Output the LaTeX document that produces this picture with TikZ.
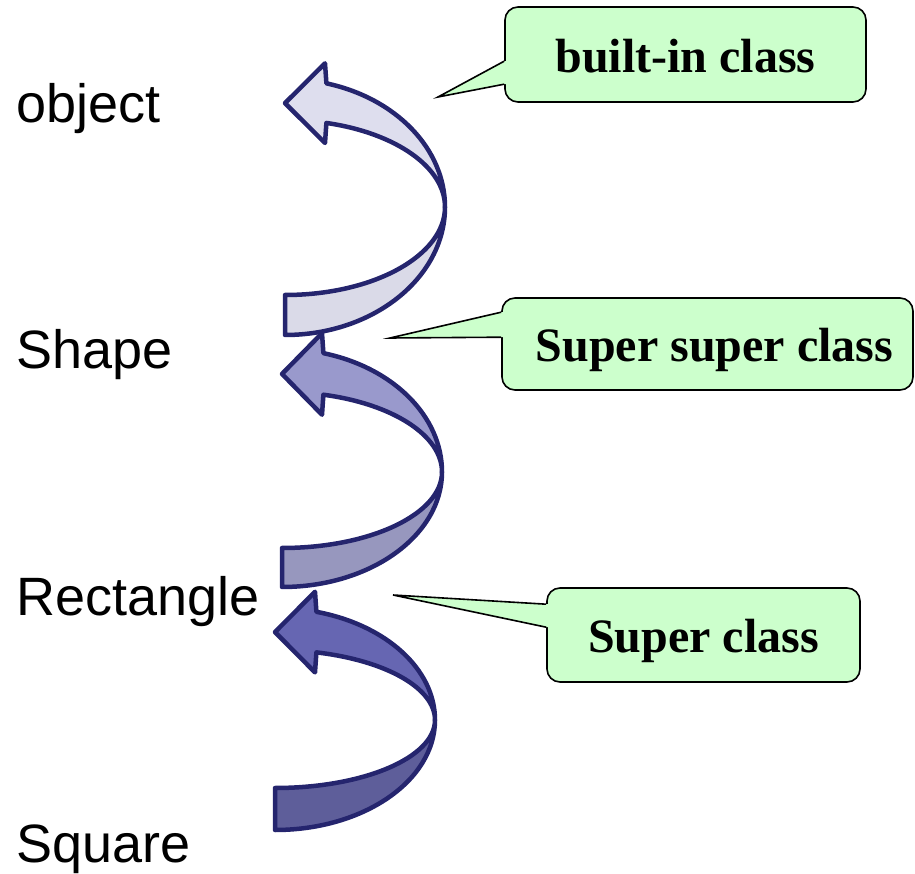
\documentclass[tikz,border=0pt]{standalone}
\usepackage{fontspec}
\setmainfont{Liberation Serif}
\newfontfamily\labelfont{Liberation Sans}
\usetikzlibrary{positioning,calc}
\definecolor{ribbonline}{RGB}{37,37,110}
\definecolor{objtop}{RGB}{222,222,238}
\definecolor{objbot}{RGB}{218,218,232}
\definecolor{shapetop}{RGB}{153,153,204}
\definecolor{shapebot}{RGB}{151,151,190}
\definecolor{recttop}{RGB}{102,102,178}
\definecolor{rectbot}{RGB}{94,94,154}
\definecolor{notegreen}{RGB}{204,255,204}

\begin{document}
\begin{tikzpicture}[x=1pt, y=1pt,
  classname/.style={anchor=base west, inner sep=0pt,
    font=\labelfont\fontsize{54}{60}\selectfont},
  ribbon/.style={draw=ribbonline, line width=4.5pt, line join=round},
  note/.style={draw=black, fill=notegreen, line width=1.6pt, rounded corners=13pt,
    inner sep=0pt, align=center, text height=36pt, text depth=0pt,
    font=\bfseries\fontsize{48}{52}\selectfont},
  notetail/.style={draw=black, line width=1.6pt, line join=miter}
]
\useasboundingbox (0,0) rectangle (915,873);

% class names, top to bottom
\node[classname] (object) at (16,750) {object};
\node[classname] (shape) at (16,504) {Shape};
\node[classname] (rect) at (16,257) {Rectangle};
\node[classname] (square) at (16,11) {Square};

% curved arrows: centre, upper/lower radii, fills
\foreach \cx/\cy/\ou/\iu/\ol/\il/\up/\dn in {
    285/666/128/87/128/88/objtop/objbot,
    282/401/123/80/115/76/shapetop/shapebot,
    275/153/112/70/110/68/recttop/rectbot}{
  \pgfmathsetmacro\hu{\cy+0.966*\ou+20}
  \pgfmathsetmacro\hl{\cy+0.966*\iu-20}
  \pgfmathsetmacro\tipy{\cy+0.483*(\ou+\iu)}
  \draw[ribbon, fill=\dn] (\cx+160,\cy)
    arc[start angle=0, end angle=-90, x radius=160, y radius=\ol]
    -- ++(0,\ol-\il)
    arc[start angle=-90, end angle=0, x radius=160, y radius=\il] -- cycle;
  \draw[ribbon, fill=\up] (\cx+41.4,\cy+0.966*\ou)
    arc[start angle=75, end angle=0, x radius=160, y radius=\ou]
    arc[start angle=0, end angle=75, x radius=160, y radius=\iu]
    -- (\cx+40,\hl) -- (\cx,\tipy) -- (\cx+40,\hu) -- cycle;
}

% callouts
\node[note, minimum width=361pt, minimum height=95pt] (builtin) at (685.5,818.5) {built-in class};
\node[note, minimum width=411pt, minimum height=92pt] (supsup) at (707.5,529) {\hspace*{14pt}Super super class};
\node[note, minimum width=313pt, minimum height=94pt] (supcls) at (703.5,238) {Super class};

\coordinate (builtintip) at (438,776);
\coordinate (supsuptip) at (390,535);
\coordinate (supclstip) at (393,278);

\foreach \note/\a/\b in {builtin/55/78, supsup/15/40, supcls/17/40}{
  \fill[notegreen] ([yshift=-\a pt]\note.north west) -- (\note tip)
    -- ([yshift=-\b pt]\note.north west) -- ([shift={(3pt,-\b pt)}]\note.north west)
    -- ([shift={(3pt,-\a pt)}]\note.north west) -- cycle;
  \draw[notetail] ([yshift=-\a pt]\note.north west) -- (\note tip)
    -- ([yshift=-\b pt]\note.north west);
}
\end{tikzpicture}
\end{document}
